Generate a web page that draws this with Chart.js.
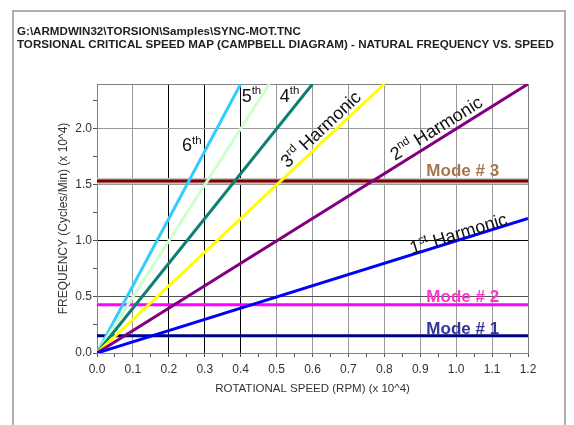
<!DOCTYPE html>
<html>
<head>
<meta charset="utf-8">
<script src="https://cdn.jsdelivr.net/npm/chart.js@4.4.1/dist/chart.umd.min.js"></script>
<style>
  body { margin: 0; background: #fff; }
  #campbell { display: block; }
</style>
</head>
<body>
<canvas id="campbell" width="574" height="425"></canvas>
<script>
// harmonic excitation lines: run from the origin to where they leave the plot
const harmonicNames = ['1st', '2nd', '3rd', '4th', '5th', '6th'];
const harmonicEndSpeed = [1.2, 1.2, 0.8, 0.6, 0.48, 0.4];
const harmonicEndFreq = [1.2, 2.4, 2.4, 2.4, 2.4, 2.4];
const harmonicColors = ['#0000ff', '#800080', '#ffff00', '#0f7f73', '#ccffcc', '#33ccff'];

// torsional natural frequencies (x 10^4 cpm)
const modeNames = ['Mode # 1', 'Mode # 2', 'Mode # 3'];
const modeFreq = [0.155, 0.43, 1.535];
const modeColors = ['#000080', '#ff00ff', '#800000'];
const modeLabelColors = ['#333399', '#ff33cc', '#a5764c'];

// axis ticks
const xMajor = [0, 0.1, 0.2, 0.3, 0.4, 0.5, 0.6, 0.7, 0.8, 0.9, 1.0, 1.1, 1.2];
const xMinor = [0.05, 0.15, 0.25, 0.35, 0.45, 0.55, 0.65, 0.75, 0.85, 0.95, 1.05, 1.15];
const yMajor = [0, 0.5, 1.0, 1.5, 2.0];
const yMinor = [0.25, 0.75, 1.25, 1.75, 2.25];
const speedMin = 0, speedMax = 1.2;
const freqMin = 0, freqMax = 2.4;

const header1 = 'G:\\ARMDWIN32\\TORSION\\Samples\\SYNC-MOT.TNC';
const header2 = 'TORSIONAL CRITICAL SPEED MAP (CAMPBELL DIAGRAM) - NATURAL FREQUENCY VS. SPEED';

Chart.defaults.font.family = '"Liberation Sans", Arial, sans-serif';
Chart.defaults.color = '#333';

const datasets = [];
harmonicNames.forEach((name, i) => {
    datasets.push({
        label: name + ' Harmonic',
        data: [{ x: 0, y: 0 }, { x: harmonicEndSpeed[i], y: harmonicEndFreq[i] }],
        borderColor: harmonicColors[i],
        borderWidth: 3
    });
});
modeNames.forEach((name, i) => {
    datasets.push({
        label: name,
        data: [{ x: speedMin, y: modeFreq[i] }, { x: speedMax, y: modeFreq[i] }],
        borderColor: modeColors[i],
        borderWidth: 3
    });
});
// grey halo behind mode 3
datasets.push({
    label: 'Mode # 3 shadow',
    data: [{ x: speedMin, y: modeFreq[2] }, { x: speedMax, y: modeFreq[2] }],
    borderColor: '#c4c4c4',
    borderWidth: 6
});

const isIn = (arr, v) => arr.some(a => Math.abs(a - v) < 1e-6);

// where the text goes (data units)
const harmonicLabelAt = [[1.006, 1.07], [0.944, 2.01], [0.622, 2.0], [0.536, 2.30], [0.43, 2.30], [0.264, 1.857]];
const modeLabelSpeed = 0.917;
const modeLabelNudge = [-2, -3, -5];

function drawOrdinal(ctx, name, rest, cx, cy, angle) {
    const num = name[0], suf = name.slice(1);
    const big = '18px "Liberation Sans", Arial, sans-serif';
    const small = '11.5px "Liberation Sans", Arial, sans-serif';
    ctx.font = big; const w1 = ctx.measureText(num).width;
    const w3 = rest ? ctx.measureText(rest).width : 0;
    ctx.font = small; const w2 = ctx.measureText(suf).width;
    const total = w1 + w2 + w3;
    ctx.save();
    ctx.translate(cx, cy);
    ctx.rotate(angle);
    ctx.fillStyle = '#111';
    ctx.textBaseline = 'alphabetic';
    ctx.textAlign = 'left';
    let x = -total / 2;
    ctx.font = big; ctx.fillText(num, x, 6.5); x += w1;
    ctx.font = small; ctx.fillText(suf, x, -1); x += w2;
    if (rest) { ctx.font = big; ctx.fillText(rest, x, 6.5); }
    ctx.restore();
}

const annotate = {
    id: 'annotate',
    beforeDatasetsDraw(chart) {
        const { ctx, chartArea: a } = chart;
        ctx.save();
        ctx.strokeStyle = '#808080';
        ctx.lineWidth = 1;
        ctx.strokeRect(a.left + 0.5, a.top + 0.5, a.right - a.left, a.bottom - a.top);
        ctx.restore();
    },
    afterDraw(chart) {
        const { ctx } = chart;
        const xs = chart.scales.x, ys = chart.scales.y;
        ctx.save();
        // outer frame
        ctx.strokeStyle = '#b0b0b0';
        ctx.lineWidth = 2;
        ctx.strokeRect(13, 11, 552, 430);
        // header
        ctx.fillStyle = '#222';
        ctx.font = 'bold 11.6px "Liberation Sans", Arial, sans-serif';
        ctx.textBaseline = 'middle';
        ctx.textAlign = 'left';
        ctx.fillText(header1, 17, 32);
        ctx.fillText(header2, 17, 45);
        // harmonic labels, rotated along their lines
        harmonicNames.forEach((name, i) => {
            const x0 = xs.getPixelForValue(0), y0 = ys.getPixelForValue(0);
            const x1 = xs.getPixelForValue(harmonicEndSpeed[i]), y1 = ys.getPixelForValue(harmonicEndFreq[i]);
            const angle = i < 3 ? Math.atan2(y1 - y0, x1 - x0) : 0;
            const [lx, ly] = harmonicLabelAt[i];
            drawOrdinal(ctx, name, i < 3 ? ' Harmonic' : '', xs.getPixelForValue(lx), ys.getPixelForValue(ly), angle);
        });
        // mode labels
        ctx.font = 'bold 17px "Liberation Sans", Arial, sans-serif';
        ctx.textBaseline = 'alphabetic';
        modeNames.forEach((name, i) => {
            ctx.fillStyle = modeLabelColors[i];
            ctx.fillText(name, xs.getPixelForValue(modeLabelSpeed), ys.getPixelForValue(modeFreq[i]) + modeLabelNudge[i]);
        });
        ctx.restore();
    }
};

new Chart(document.getElementById('campbell'), {
    type: 'line',
    data: { datasets },
    options: {
        responsive: false,
        animation: false,
        devicePixelRatio: 1,
        layout: { padding: { left: 50, right: 46, top: 84, bottom: 22 } },
        elements: { point: { radius: 0 }, line: { tension: 0, borderCapStyle: 'butt' } },
        plugins: { legend: { display: false }, tooltip: { enabled: false } },
        scales: {
            x: {
                type: 'linear',
                min: speedMin,
                max: speedMax,
                afterFit: s => { s.height = 50; },
                afterBuildTicks: s => {
                    s.ticks = xMajor.concat(xMinor).sort((p, q) => p - q).map(v => ({ value: v }));
                },
                ticks: {
                    autoSkip: false,
                    maxRotation: 0,
                    padding: 5,
                    font: { size: 12 },
                    color: '#333',
                    callback: v => isIn(xMajor, v) ? v.toFixed(1) : ''
                },
                grid: {
                    tickLength: 4,
                    lineWidth: 1,
                    color: c => {
                        const v = c.tick ? c.tick.value : 0;
                        if (!isIn(xMajor, v)) return 'rgba(0,0,0,0)';
                        if (isIn([0.2, 0.3, 0.4], v)) return '#000';
                        return '#999';
                    },
                    tickColor: '#555'
                },
                border: { color: '#808080' },
                title: {
                    display: true,
                    text: 'ROTATIONAL SPEED (RPM) (x 10^4)',
                    font: { size: 11.5 },
                    color: '#333',
                    padding: { top: 0, bottom: 7 }
                }
            },
            y: {
                type: 'linear',
                min: freqMin,
                max: freqMax,
                afterFit: s => { s.width = 47; },
                afterBuildTicks: s => {
                    s.ticks = yMajor.concat(yMinor).sort((p, q) => p - q).map(v => ({ value: v }));
                },
                ticks: {
                    autoSkip: false,
                    padding: 1,
                    font: { size: 12 },
                    color: '#333',
                    callback: v => isIn(yMajor, v) ? v.toFixed(1) : ''
                },
                grid: {
                    tickLength: 4,
                    lineWidth: 1,
                    color: c => {
                        const v = c.tick ? c.tick.value : 0;
                        if (!isIn(yMajor, v)) return 'rgba(0,0,0,0)';
                        if (isIn([1.0], v)) return '#000';
                        if (isIn([0.5], v)) return '#555';
                        return '#999';
                    },
                    tickColor: '#555'
                },
                border: { color: '#808080' },
                title: {
                    display: true,
                    text: 'FREQUENCY (Cycles/Min) (x 10^4)',
                    font: { size: 12 },
                    color: '#333',
                    padding: { top: 6, bottom: 0 }
                }
            }
        }
    },
    plugins: [annotate]
});
</script>
</body>
</html>
